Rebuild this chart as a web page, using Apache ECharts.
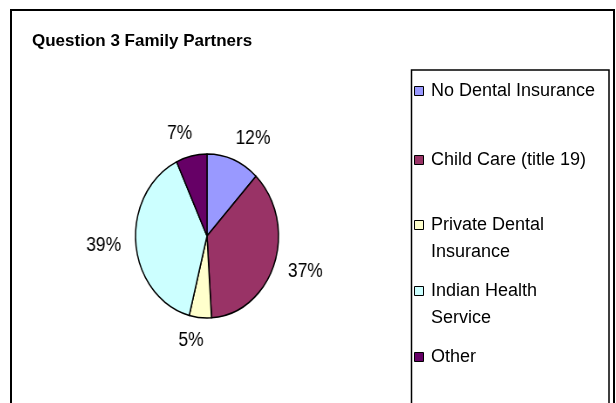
<!DOCTYPE html>
<html>
<head>
<meta charset="utf-8">
<script src="https://cdn.jsdelivr.net/npm/echarts@6/dist/echarts.min.js"></script>
<style>
  html, body { margin: 0; padding: 0; background: #fff; }
  #wrap { position: relative; width: 616px; height: 403px; overflow: hidden; }
  #main, #pie { position: absolute; left: 0; top: 0; width: 616px; height: 403px; }
  /* the pie is drawn a little taller than wide */
  #pie { transform-origin: 207px 236px; transform: scaleX(0.872); }
</style>
</head>
<body>
<div id="wrap"><div id="main"></div><div id="pie"></div></div>
<script>
const chartTitle = 'Question 3 Family Partners';
const categories = [
  'No Dental Insurance',
  'Child Care (title 19)',
  'Private Dental Insurance',
  'Indian Health Service',
  'Other'
];
const shares = [12, 37, 5, 39, 7];
const sliceColors = ['#9999FF', '#993366', '#FFFFCC', '#CCFFFF', '#660066'];

const FONT = '"Liberation Sans", Arial, sans-serif';

const pieData = categories.map((name, i) => ({
  name: name,
  value: shares[i],
  itemStyle: { color: sliceColors[i] }
}));

// ---------- frame, title and legend ----------
const main = echarts.init(document.getElementById('main'), null, { renderer: 'canvas' });

const LEGEND_FONT = 18;
const LEGEND_LINE = 27;
const LEGEND_WRAP = 167;
// icon centre of each legend entry
const legendRows = [91, 160, 225, 291, 357];

const measureCtx = document.createElement('canvas').getContext('2d');
measureCtx.font = LEGEND_FONT + 'px ' + FONT;

const legends = categories.map((name, i) => {
  const wraps = measureCtx.measureText(name).width > LEGEND_WRAP;
  // a wrapped entry gets an empty leading line so its first line sits beside the icon
  const blockHalf = (wraps ? 3 : 1) * LEGEND_LINE / 2;
  return {
    data: [name],
    orient: 'vertical',
    left: 414,
    top: legendRows[i] - blockHalf,
    padding: 0,
    selectedMode: false,
    icon: 'path://M0,0H10V10H0Z',
    itemWidth: 14,
    itemHeight: 9,
    itemGap: 0,
    itemStyle: { borderColor: '#000', borderWidth: 1 },
    formatter: wraps ? (n) => '\n' + n : '{name}',
    textStyle: {
      color: '#000',
      fontFamily: FONT,
      fontSize: LEGEND_FONT,
      lineHeight: LEGEND_LINE,
      width: LEGEND_WRAP,
      overflow: 'break'
    }
  };
});

main.setOption({
  animation: false,
  backgroundColor: '#fff',
  title: {
    text: chartTitle,
    left: 32,
    top: 33,
    padding: 0,
    textStyle: { color: '#000', fontFamily: FONT, fontSize: 17, fontWeight: 'bold' }
  },
  legend: legends,
  graphic: [
    {
      type: 'rect',
      shape: { x: 11, y: 10, width: 603, height: 420 },
      style: { fill: null, stroke: '#000', lineWidth: 2 },
      silent: true
    },
    {
      type: 'rect',
      shape: { x: 411.5, y: 70, width: 197.5, height: 360 },
      style: { fill: null, stroke: '#000', lineWidth: 1.5 },
      silent: true
    }
  ],
  // legend source; kept off-canvas, the visible pie is in its own layer
  series: [{
    type: 'pie',
    center: [-500, -500],
    radius: 1,
    silent: true,
    label: { show: false },
    labelLine: { show: false },
    itemStyle: { borderColor: '#000', borderWidth: 1 },
    data: pieData
  }]
});

// ---------- pie ----------
const pie = echarts.init(document.getElementById('pie'), null, { renderer: 'canvas' });
pie.setOption({
  animation: false,
  series: [{
    type: 'pie',
    center: [207, 236],
    radius: 82,
    startAngle: 90,
    clockwise: true,
    avoidLabelOverlap: false,
    itemStyle: { borderColor: '#000', borderWidth: 1.5 },
    emphasis: { disabled: true },
    label: {
      show: true,
      position: 'outside',
      formatter: '{c}%',
      color: '#000',
      fontFamily: FONT,
      fontSize: 20,
      padding: [7, 0, 0, 0],
      distanceToLabelLine: 0
    },
    labelLine: { show: false, length: 23, length2: -6 },
    data: pieData
  }]
});
</script>
</body>
</html>
